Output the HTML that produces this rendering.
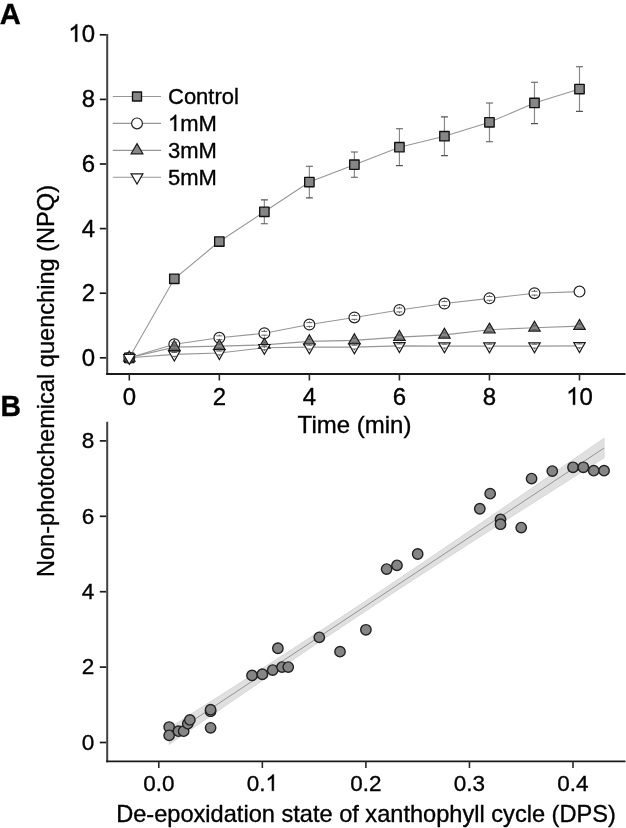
<!DOCTYPE html><html><head><meta charset="utf-8"><style>html,body{margin:0;padding:0;background:#fff;}svg{display:block;will-change:transform;font-family:"Liberation Sans",sans-serif;}text{stroke:#000;stroke-width:0.35px;}</style></head><body>
<svg width="626" height="828" viewBox="0 0 626 828">
<g transform="translate(-0.30 24.20) scale(1.0 1.015)"><text x="0.00" y="0" font-size="29.2" font-weight="bold">A</text></g>
<g transform="translate(0.40 416.20) scale(0.97 1.015)"><text x="0.00" y="0" font-size="29.2" font-weight="bold">B</text></g>
<path d="M107.2 34.000000000000014 V374.9" fill="none" stroke="#404040" stroke-width="2"/>
<path d="M106.1 374 H625.5" fill="none" stroke="#1a1a1a" stroke-width="1.8"/>
<line x1="99.8" y1="357.80" x2="106.2" y2="357.80" stroke="#1a1a1a" stroke-width="1.7"/>
<g transform="translate(81.65 365.70) scale(1.0 1.015)"><text x="0.00" y="0" font-size="24">0</text></g>
<line x1="99.8" y1="293.20" x2="106.2" y2="293.20" stroke="#1a1a1a" stroke-width="1.7"/>
<g transform="translate(81.65 301.10) scale(1.0 1.015)"><text x="0.00" y="0" font-size="24">2</text></g>
<line x1="99.8" y1="228.60" x2="106.2" y2="228.60" stroke="#1a1a1a" stroke-width="1.7"/>
<g transform="translate(81.65 236.50) scale(1.0 1.015)"><text x="0.00" y="0" font-size="24">4</text></g>
<line x1="99.8" y1="164.00" x2="106.2" y2="164.00" stroke="#1a1a1a" stroke-width="1.7"/>
<g transform="translate(81.65 171.90) scale(1.0 1.015)"><text x="0.00" y="0" font-size="24">6</text></g>
<line x1="99.8" y1="99.40" x2="106.2" y2="99.40" stroke="#1a1a1a" stroke-width="1.7"/>
<g transform="translate(81.65 107.30) scale(1.0 1.015)"><text x="0.00" y="0" font-size="24">8</text></g>
<line x1="99.8" y1="34.80" x2="106.2" y2="34.80" stroke="#1a1a1a" stroke-width="1.7"/>
<g transform="translate(68.30 41.70) scale(1.0 1.015)"><path d="M8.94 0.00L6.83 0.00L6.83 -13.44Q6.07 -12.71 4.83 -11.99Q3.60 -11.26 2.61 -10.90L2.61 -12.94Q4.38 -13.77 5.71 -14.95Q7.03 -16.14 7.58 -17.25L8.94 -17.25Z" fill="#000" stroke="#000" stroke-width="0.35"/><text x="13.35" y="0" font-size="24">0</text></g>
<line x1="129.30" y1="374" x2="129.30" y2="380.5" stroke="#2a2a2a" stroke-width="1.6"/>
<g transform="translate(122.63 404.70) scale(1.0 1.015)"><text x="0.00" y="0" font-size="24">0</text></g>
<line x1="219.34" y1="374" x2="219.34" y2="380.5" stroke="#2a2a2a" stroke-width="1.6"/>
<g transform="translate(212.67 404.70) scale(1.0 1.015)"><text x="0.00" y="0" font-size="24">2</text></g>
<line x1="309.38" y1="374" x2="309.38" y2="380.5" stroke="#2a2a2a" stroke-width="1.6"/>
<g transform="translate(302.71 404.70) scale(1.0 1.015)"><text x="0.00" y="0" font-size="24">4</text></g>
<line x1="399.42" y1="374" x2="399.42" y2="380.5" stroke="#2a2a2a" stroke-width="1.6"/>
<g transform="translate(392.75 404.70) scale(1.0 1.015)"><text x="0.00" y="0" font-size="24">6</text></g>
<line x1="489.46" y1="374" x2="489.46" y2="380.5" stroke="#2a2a2a" stroke-width="1.6"/>
<g transform="translate(482.79 404.70) scale(1.0 1.015)"><text x="0.00" y="0" font-size="24">8</text></g>
<line x1="579.50" y1="374" x2="579.50" y2="380.5" stroke="#2a2a2a" stroke-width="1.6"/>
<g transform="translate(566.15 404.70) scale(1.0 1.015)"><path d="M8.94 0.00L6.83 0.00L6.83 -13.44Q6.07 -12.71 4.83 -11.99Q3.60 -11.26 2.61 -10.90L2.61 -12.94Q4.38 -13.77 5.71 -14.95Q7.03 -16.14 7.58 -17.25L8.94 -17.25Z" fill="#000" stroke="#000" stroke-width="0.35"/><text x="13.35" y="0" font-size="24">0</text></g>
<text x="354.5" y="433" font-size="24" text-anchor="middle">Time (min)</text>
<text transform="translate(54.3 381) rotate(-90)" font-size="23.6" text-anchor="middle">Non-photochemical quenching (NPQ)</text>
<polyline points="129.30,357.80 174.32,354.41 219.34,352.95 264.36,347.79 309.38,347.14 354.40,347.14 399.42,345.85 444.44,346.17 489.46,346.17 534.48,346.17 579.50,345.85" fill="none" stroke="#969696" stroke-width="1.1"/>
<polyline points="129.30,357.80 174.32,347.14 219.34,346.17 264.36,344.88 309.38,341.33 354.40,340.36 399.42,337.13 444.44,334.87 489.46,329.70 534.48,327.76 579.50,326.15" fill="none" stroke="#969696" stroke-width="1.1"/>
<polyline points="129.30,357.80 174.32,344.23 219.34,337.77 264.36,333.25 309.38,324.53 354.40,317.43 399.42,310.00 444.44,303.54 489.46,298.37 534.48,293.20 579.50,291.59" fill="none" stroke="#969696" stroke-width="1.1"/>
<polyline points="129.30,357.80 174.32,278.79 219.34,241.52 264.36,211.80 309.38,182.09 354.40,164.65 399.42,147.20 444.44,136.22 489.46,122.33 534.48,102.95 579.50,89.06" fill="none" stroke="#969696" stroke-width="1.1"/>
<path d="M264.36 199.85 V223.76" stroke="#8a8a8a" stroke-width="1.2" fill="none"/>
<path d="M260.86 199.85 H267.86 M260.86 223.76 H267.86" stroke="#555" stroke-width="1.1" fill="none"/>
<path d="M309.38 166.26 V197.92" stroke="#8a8a8a" stroke-width="1.2" fill="none"/>
<path d="M305.88 166.26 H312.88 M305.88 197.92 H312.88" stroke="#555" stroke-width="1.1" fill="none"/>
<path d="M354.40 152.05 V177.24" stroke="#8a8a8a" stroke-width="1.2" fill="none"/>
<path d="M350.90 152.05 H357.90 M350.90 177.24 H357.90" stroke="#555" stroke-width="1.1" fill="none"/>
<path d="M399.42 128.79 V165.62" stroke="#8a8a8a" stroke-width="1.2" fill="none"/>
<path d="M395.92 128.79 H402.92 M395.92 165.62 H402.92" stroke="#555" stroke-width="1.1" fill="none"/>
<path d="M444.44 116.84 V155.60" stroke="#8a8a8a" stroke-width="1.2" fill="none"/>
<path d="M440.94 116.84 H447.94 M440.94 155.60 H447.94" stroke="#555" stroke-width="1.1" fill="none"/>
<path d="M489.46 102.95 V141.71" stroke="#8a8a8a" stroke-width="1.2" fill="none"/>
<path d="M485.96 102.95 H492.96 M485.96 141.71 H492.96" stroke="#555" stroke-width="1.1" fill="none"/>
<path d="M534.48 82.28 V123.63" stroke="#8a8a8a" stroke-width="1.2" fill="none"/>
<path d="M530.98 82.28 H537.98 M530.98 123.63 H537.98" stroke="#555" stroke-width="1.1" fill="none"/>
<path d="M579.50 66.78 V111.35" stroke="#8a8a8a" stroke-width="1.2" fill="none"/>
<path d="M576.00 66.78 H583.00 M576.00 111.35 H583.00" stroke="#555" stroke-width="1.1" fill="none"/>
<rect x="124.60" y="353.10" width="9.4" height="9.4" fill="#868686" stroke="#111" stroke-width="1.35" stroke-linejoin="round"/>
<rect x="169.62" y="274.09" width="9.4" height="9.4" fill="#868686" stroke="#111" stroke-width="1.35" stroke-linejoin="round"/>
<rect x="214.64" y="236.82" width="9.4" height="9.4" fill="#868686" stroke="#111" stroke-width="1.35" stroke-linejoin="round"/>
<rect x="259.66" y="207.10" width="9.4" height="9.4" fill="#868686" stroke="#111" stroke-width="1.35" stroke-linejoin="round"/>
<rect x="304.68" y="177.39" width="9.4" height="9.4" fill="#868686" stroke="#111" stroke-width="1.35" stroke-linejoin="round"/>
<rect x="349.70" y="159.95" width="9.4" height="9.4" fill="#868686" stroke="#111" stroke-width="1.35" stroke-linejoin="round"/>
<rect x="394.72" y="142.50" width="9.4" height="9.4" fill="#868686" stroke="#111" stroke-width="1.35" stroke-linejoin="round"/>
<rect x="439.74" y="131.52" width="9.4" height="9.4" fill="#868686" stroke="#111" stroke-width="1.35" stroke-linejoin="round"/>
<rect x="484.76" y="117.63" width="9.4" height="9.4" fill="#868686" stroke="#111" stroke-width="1.35" stroke-linejoin="round"/>
<rect x="529.78" y="98.25" width="9.4" height="9.4" fill="#868686" stroke="#111" stroke-width="1.35" stroke-linejoin="round"/>
<rect x="574.80" y="84.36" width="9.4" height="9.4" fill="#868686" stroke="#111" stroke-width="1.35" stroke-linejoin="round"/>
<circle cx="129.30" cy="357.80" r="5.4" fill="#fff" stroke="#222" stroke-width="1.2"/>
<circle cx="174.32" cy="344.23" r="5.4" fill="#fff" stroke="#222" stroke-width="1.2"/>
<circle cx="219.34" cy="337.77" r="5.4" fill="#fff" stroke="#222" stroke-width="1.2"/>
<circle cx="264.36" cy="333.25" r="5.4" fill="#fff" stroke="#222" stroke-width="1.2"/>
<circle cx="309.38" cy="324.53" r="5.4" fill="#fff" stroke="#222" stroke-width="1.2"/>
<circle cx="354.40" cy="317.43" r="5.4" fill="#fff" stroke="#222" stroke-width="1.2"/>
<circle cx="399.42" cy="310.00" r="5.4" fill="#fff" stroke="#222" stroke-width="1.2"/>
<circle cx="444.44" cy="303.54" r="5.4" fill="#fff" stroke="#222" stroke-width="1.2"/>
<circle cx="489.46" cy="298.37" r="5.4" fill="#fff" stroke="#222" stroke-width="1.2"/>
<circle cx="534.48" cy="293.20" r="5.4" fill="#fff" stroke="#222" stroke-width="1.2"/>
<circle cx="579.50" cy="291.59" r="5.4" fill="#fff" stroke="#222" stroke-width="1.2"/>
<polygon points="129.30,351.22 135.00,361.09 123.60,361.09" fill="#888" stroke="#1a1a1a" stroke-width="1.2" stroke-linejoin="miter"/>
<polygon points="174.32,340.56 180.02,350.43 168.62,350.43" fill="#888" stroke="#1a1a1a" stroke-width="1.2" stroke-linejoin="miter"/>
<polygon points="219.34,339.59 225.04,349.46 213.64,349.46" fill="#888" stroke="#1a1a1a" stroke-width="1.2" stroke-linejoin="miter"/>
<polygon points="264.36,338.30 270.06,348.17 258.66,348.17" fill="#888" stroke="#1a1a1a" stroke-width="1.2" stroke-linejoin="miter"/>
<polygon points="309.38,334.75 315.08,344.62 303.68,344.62" fill="#888" stroke="#1a1a1a" stroke-width="1.2" stroke-linejoin="miter"/>
<polygon points="354.40,333.78 360.10,343.65 348.70,343.65" fill="#888" stroke="#1a1a1a" stroke-width="1.2" stroke-linejoin="miter"/>
<polygon points="399.42,330.55 405.12,340.42 393.72,340.42" fill="#888" stroke="#1a1a1a" stroke-width="1.2" stroke-linejoin="miter"/>
<polygon points="444.44,328.29 450.14,338.16 438.74,338.16" fill="#888" stroke="#1a1a1a" stroke-width="1.2" stroke-linejoin="miter"/>
<polygon points="489.46,323.12 495.16,332.99 483.76,332.99" fill="#888" stroke="#1a1a1a" stroke-width="1.2" stroke-linejoin="miter"/>
<polygon points="534.48,321.18 540.18,331.05 528.78,331.05" fill="#888" stroke="#1a1a1a" stroke-width="1.2" stroke-linejoin="miter"/>
<polygon points="579.50,319.56 585.20,329.44 573.80,329.44" fill="#888" stroke="#1a1a1a" stroke-width="1.2" stroke-linejoin="miter"/>
<polygon points="123.60,354.51 135.00,354.51 129.30,364.38" fill="#fff" stroke="#1a1a1a" stroke-width="1.2" stroke-linejoin="miter"/>
<polygon points="168.62,351.12 180.02,351.12 174.32,360.99" fill="#fff" stroke="#1a1a1a" stroke-width="1.2" stroke-linejoin="miter"/>
<polygon points="213.64,349.66 225.04,349.66 219.34,359.54" fill="#fff" stroke="#1a1a1a" stroke-width="1.2" stroke-linejoin="miter"/>
<polygon points="258.66,344.50 270.06,344.50 264.36,354.37" fill="#fff" stroke="#1a1a1a" stroke-width="1.2" stroke-linejoin="miter"/>
<polygon points="303.68,343.85 315.08,343.85 309.38,353.72" fill="#fff" stroke="#1a1a1a" stroke-width="1.2" stroke-linejoin="miter"/>
<polygon points="348.70,343.85 360.10,343.85 354.40,353.72" fill="#fff" stroke="#1a1a1a" stroke-width="1.2" stroke-linejoin="miter"/>
<polygon points="393.72,342.56 405.12,342.56 399.42,352.43" fill="#fff" stroke="#1a1a1a" stroke-width="1.2" stroke-linejoin="miter"/>
<polygon points="438.74,342.88 450.14,342.88 444.44,352.75" fill="#fff" stroke="#1a1a1a" stroke-width="1.2" stroke-linejoin="miter"/>
<polygon points="483.76,342.88 495.16,342.88 489.46,352.75" fill="#fff" stroke="#1a1a1a" stroke-width="1.2" stroke-linejoin="miter"/>
<polygon points="528.78,342.88 540.18,342.88 534.48,352.75" fill="#fff" stroke="#1a1a1a" stroke-width="1.2" stroke-linejoin="miter"/>
<polygon points="573.80,342.56 585.20,342.56 579.50,352.43" fill="#fff" stroke="#1a1a1a" stroke-width="1.2" stroke-linejoin="miter"/>
<path d="M174.32 341.03 V342.33 M174.32 347.43 V346.13 M171.32 342.33 H177.32 M171.32 346.13 H177.32" stroke="#555" stroke-width="0.9" fill="none"/>
<path d="M219.34 334.57 V335.87 M219.34 340.97 V339.67 M216.34 335.87 H222.34 M216.34 339.67 H222.34" stroke="#555" stroke-width="0.9" fill="none"/>
<path d="M264.36 330.05 V331.35 M264.36 336.45 V335.15 M261.36 331.35 H267.36 M261.36 335.15 H267.36" stroke="#555" stroke-width="0.9" fill="none"/>
<path d="M309.38 321.33 V322.63 M309.38 327.73 V326.43 M306.38 322.63 H312.38 M306.38 326.43 H312.38" stroke="#555" stroke-width="0.9" fill="none"/>
<path d="M354.40 314.23 V315.53 M354.40 320.62 V319.32 M351.40 315.53 H357.40 M351.40 319.32 H357.40" stroke="#555" stroke-width="0.9" fill="none"/>
<path d="M399.42 306.80 V308.10 M399.42 313.20 V311.90 M396.42 308.10 H402.42 M396.42 311.90 H402.42" stroke="#555" stroke-width="0.9" fill="none"/>
<path d="M444.44 300.34 V301.64 M444.44 306.74 V305.44 M441.44 301.64 H447.44 M441.44 305.44 H447.44" stroke="#555" stroke-width="0.9" fill="none"/>
<path d="M489.46 295.17 V296.47 M489.46 301.57 V300.27 M486.46 296.47 H492.46 M486.46 300.27 H492.46" stroke="#555" stroke-width="0.9" fill="none"/>
<path d="M534.48 290.00 V291.30 M534.48 296.40 V295.10 M531.48 291.30 H537.48 M531.48 295.10 H537.48" stroke="#555" stroke-width="0.9" fill="none"/>
<path d="M174.32 343.94 V345.24 M174.32 350.34 V349.04 M171.32 345.24 H177.32 M171.32 349.04 H177.32" stroke="#555" stroke-width="0.9" fill="none"/>
<path d="M219.34 342.97 V344.27 M219.34 349.37 V348.07 M216.34 344.27 H222.34 M216.34 348.07 H222.34" stroke="#555" stroke-width="0.9" fill="none"/>
<path d="M264.36 341.68 V342.98 M264.36 348.08 V346.78 M261.36 342.98 H267.36 M261.36 346.78 H267.36" stroke="#555" stroke-width="0.9" fill="none"/>
<path d="M309.38 338.13 V339.43 M309.38 344.53 V343.23 M306.38 339.43 H312.38 M306.38 343.23 H312.38" stroke="#555" stroke-width="0.9" fill="none"/>
<path d="M354.40 337.16 V338.46 M354.40 343.56 V342.26 M351.40 338.46 H357.40 M351.40 342.26 H357.40" stroke="#555" stroke-width="0.9" fill="none"/>
<path d="M399.42 333.93 V335.23 M399.42 340.33 V339.03 M396.42 335.23 H402.42 M396.42 339.03 H402.42" stroke="#555" stroke-width="0.9" fill="none"/>
<path d="M444.44 331.67 V332.97 M444.44 338.07 V336.77 M441.44 332.97 H447.44 M441.44 336.77 H447.44" stroke="#555" stroke-width="0.9" fill="none"/>
<path d="M489.46 326.50 V327.80 M489.46 332.90 V331.60 M486.46 327.80 H492.46 M486.46 331.60 H492.46" stroke="#555" stroke-width="0.9" fill="none"/>
<path d="M534.48 324.56 V325.86 M534.48 330.96 V329.66 M531.48 325.86 H537.48 M531.48 329.66 H537.48" stroke="#555" stroke-width="0.9" fill="none"/>
<path d="M579.50 322.95 V324.25 M579.50 329.35 V328.05 M576.50 324.25 H582.50 M576.50 328.05 H582.50" stroke="#555" stroke-width="0.9" fill="none"/>
<path d="M174.32 351.21 V352.51 M174.32 357.61 V356.31 M171.32 352.51 H177.32 M171.32 356.31 H177.32" stroke="#555" stroke-width="0.9" fill="none"/>
<path d="M219.34 349.75 V351.06 M219.34 356.15 V354.85 M216.34 351.06 H222.34 M216.34 354.85 H222.34" stroke="#555" stroke-width="0.9" fill="none"/>
<path d="M264.36 344.59 V345.89 M264.36 350.99 V349.69 M261.36 345.89 H267.36 M261.36 349.69 H267.36" stroke="#555" stroke-width="0.9" fill="none"/>
<path d="M309.38 343.94 V345.24 M309.38 350.34 V349.04 M306.38 345.24 H312.38 M306.38 349.04 H312.38" stroke="#555" stroke-width="0.9" fill="none"/>
<path d="M354.40 343.94 V345.24 M354.40 350.34 V349.04 M351.40 345.24 H357.40 M351.40 349.04 H357.40" stroke="#555" stroke-width="0.9" fill="none"/>
<path d="M399.42 342.65 V343.95 M399.42 349.05 V347.75 M396.42 343.95 H402.42 M396.42 347.75 H402.42" stroke="#555" stroke-width="0.9" fill="none"/>
<path d="M444.44 342.97 V344.27 M444.44 349.37 V348.07 M441.44 344.27 H447.44 M441.44 348.07 H447.44" stroke="#555" stroke-width="0.9" fill="none"/>
<path d="M489.46 342.97 V344.27 M489.46 349.37 V348.07 M486.46 344.27 H492.46 M486.46 348.07 H492.46" stroke="#555" stroke-width="0.9" fill="none"/>
<path d="M534.48 342.97 V344.27 M534.48 349.37 V348.07 M531.48 344.27 H537.48 M531.48 348.07 H537.48" stroke="#555" stroke-width="0.9" fill="none"/>
<path d="M579.50 342.65 V343.95 M579.50 349.05 V347.75 M576.50 343.95 H582.50 M576.50 347.75 H582.50" stroke="#555" stroke-width="0.9" fill="none"/>
<line x1="112.8" y1="96.5" x2="161" y2="96.5" stroke="#969696" stroke-width="1.1"/>
<rect x="132.50" y="92.00" width="9.0" height="9.0" fill="#868686" stroke="#111" stroke-width="1.35" stroke-linejoin="round"/>
<g transform="translate(168.00 104.00) scale(1.0 1.02)"><text x="0.00" y="0" font-size="22">Control</text></g>
<line x1="112.8" y1="123.4" x2="161" y2="123.4" stroke="#969696" stroke-width="1.1"/>
<circle cx="137.00" cy="123.40" r="5.4" fill="#fff" stroke="#222" stroke-width="1.2"/>
<g transform="translate(168.00 130.90) scale(1.0 1.02)"><path d="M8.20 0.00L6.26 0.00L6.26 -12.32Q5.56 -11.66 4.43 -10.99Q3.30 -10.32 2.40 -9.99L2.40 -11.86Q4.02 -12.62 5.23 -13.71Q6.45 -14.79 6.95 -15.81L8.20 -15.81Z" fill="#000" stroke="#000" stroke-width="0.35"/><text x="12.24" y="0" font-size="22">mM</text></g>
<line x1="112.8" y1="150.4" x2="161" y2="150.4" stroke="#969696" stroke-width="1.1"/>
<polygon points="137.00,143.59 142.90,153.81 131.10,153.81" fill="#888" stroke="#1a1a1a" stroke-width="1.2" stroke-linejoin="miter"/>
<g transform="translate(168.00 157.90) scale(1.0 1.02)"><text x="0.00" y="0" font-size="22">3mM</text></g>
<line x1="112.8" y1="177.3" x2="161" y2="177.3" stroke="#969696" stroke-width="1.1"/>
<polygon points="131.10,173.89 142.90,173.89 137.00,184.11" fill="#fff" stroke="#1a1a1a" stroke-width="1.2" stroke-linejoin="miter"/>
<g transform="translate(168.00 184.80) scale(1.0 1.02)"><text x="0.00" y="0" font-size="22">5mM</text></g>
<path d="M107.2 421.8 V762.3" fill="none" stroke="#404040" stroke-width="2"/>
<path d="M106.1 761.4 H625.5" fill="none" stroke="#1a1a1a" stroke-width="1.8"/>
<line x1="99.8" y1="742.50" x2="106.2" y2="742.50" stroke="#1a1a1a" stroke-width="1.7"/>
<g transform="translate(81.83 749.70) scale(1.0 1.015)"><text x="0.00" y="0" font-size="22.6">0</text></g>
<line x1="99.8" y1="667.10" x2="106.2" y2="667.10" stroke="#1a1a1a" stroke-width="1.7"/>
<g transform="translate(81.83 674.30) scale(1.0 1.015)"><text x="0.00" y="0" font-size="22.6">2</text></g>
<line x1="99.8" y1="591.70" x2="106.2" y2="591.70" stroke="#1a1a1a" stroke-width="1.7"/>
<g transform="translate(81.83 598.90) scale(1.0 1.015)"><text x="0.00" y="0" font-size="22.6">4</text></g>
<line x1="99.8" y1="516.30" x2="106.2" y2="516.30" stroke="#1a1a1a" stroke-width="1.7"/>
<g transform="translate(81.83 523.50) scale(1.0 1.015)"><text x="0.00" y="0" font-size="22.6">6</text></g>
<line x1="99.8" y1="440.90" x2="106.2" y2="440.90" stroke="#1a1a1a" stroke-width="1.7"/>
<g transform="translate(81.83 448.10) scale(1.0 1.015)"><text x="0.00" y="0" font-size="22.6">8</text></g>
<line x1="158.80" y1="761.4" x2="158.80" y2="768" stroke="#2a2a2a" stroke-width="1.6"/>
<g transform="translate(143.16 790.80) scale(1.0 1.015)"><text x="0.00" y="0" font-size="22.5">0.0</text></g>
<line x1="262.35" y1="761.4" x2="262.35" y2="768" stroke="#2a2a2a" stroke-width="1.6"/>
<g transform="translate(246.71 790.80) scale(1.0 1.015)"><text x="0.00" y="0" font-size="22.5">0.</text><path d="M27.15 0.00L25.17 0.00L25.17 -12.60Q24.46 -11.92 23.29 -11.24Q22.14 -10.56 21.21 -10.22L21.21 -12.13Q22.87 -12.91 24.11 -14.02Q25.36 -15.13 25.87 -16.17L27.15 -16.17Z" fill="#000" stroke="#000" stroke-width="0.35"/></g>
<line x1="365.90" y1="761.4" x2="365.90" y2="768" stroke="#2a2a2a" stroke-width="1.6"/>
<g transform="translate(350.26 790.80) scale(1.0 1.015)"><text x="0.00" y="0" font-size="22.5">0.2</text></g>
<line x1="469.45" y1="761.4" x2="469.45" y2="768" stroke="#2a2a2a" stroke-width="1.6"/>
<g transform="translate(453.81 790.80) scale(1.0 1.015)"><text x="0.00" y="0" font-size="22.5">0.3</text></g>
<line x1="573.00" y1="761.4" x2="573.00" y2="768" stroke="#2a2a2a" stroke-width="1.6"/>
<g transform="translate(557.36 790.80) scale(1.0 1.015)"><text x="0.00" y="0" font-size="22.5">0.4</text></g>
<text x="366" y="822" font-size="23.6" text-anchor="middle">De-epoxidation state of xanthophyll cycle (DPS)</text>
<polygon points="169.16,727.98 176.40,723.37 183.65,718.76 190.90,714.15 198.15,709.53 205.40,704.91 212.65,700.29 219.89,695.66 227.14,691.02 234.39,686.39 241.64,681.74 248.89,677.09 256.14,672.43 263.39,667.77 270.63,663.10 277.88,658.42 285.13,653.74 292.38,649.04 299.63,644.34 306.88,639.62 314.12,634.90 321.37,630.17 328.62,625.42 335.87,620.66 343.12,615.89 350.37,611.11 357.62,606.32 364.86,601.51 372.11,596.69 379.36,591.86 386.61,587.02 393.86,582.17 401.11,577.30 408.36,572.42 415.60,567.54 422.85,562.64 430.10,557.73 437.35,552.82 444.60,547.89 451.85,542.96 459.10,538.02 466.34,533.08 473.59,528.12 480.84,523.16 488.09,518.20 495.34,513.23 502.59,508.25 509.83,503.28 517.08,498.29 524.33,493.30 531.58,488.31 538.83,483.32 546.08,478.32 553.33,473.32 560.57,468.32 567.82,463.31 575.07,458.31 582.32,453.30 589.57,448.28 596.82,443.27 604.07,438.25 604.07,457.87 596.82,462.46 589.57,467.05 582.32,471.65 575.07,476.24 567.82,480.84 560.57,485.44 553.33,490.05 546.08,494.65 538.83,499.26 531.58,503.87 524.33,508.49 517.08,513.11 509.83,517.73 502.59,522.35 495.34,526.99 488.09,531.62 480.84,536.26 473.59,540.91 466.34,545.56 459.10,550.22 451.85,554.89 444.60,559.56 437.35,564.25 430.10,568.94 422.85,573.64 415.60,578.34 408.36,583.06 401.11,587.79 393.86,592.53 386.61,597.29 379.36,602.05 372.11,606.82 364.86,611.61 357.62,616.41 350.37,621.22 343.12,626.05 335.87,630.88 328.62,635.73 321.37,640.59 314.12,645.46 306.88,650.35 299.63,655.24 292.38,660.14 285.13,665.05 277.88,669.97 270.63,674.90 263.39,679.83 256.14,684.78 248.89,689.73 241.64,694.68 234.39,699.64 227.14,704.61 219.89,709.58 212.65,714.56 205.40,719.54 198.15,724.53 190.90,729.52 183.65,734.51 176.40,739.51 169.16,744.50" fill="#e0e0e0" stroke="#d2d2d2" stroke-width="0.8"/>
<line x1="169.16" y1="736.24" x2="604.07" y2="448.06" stroke="#959595" stroke-width="1"/>
<circle cx="169.16" cy="727.04" r="5.2" fill="#858585" stroke="#222" stroke-width="1.4"/>
<circle cx="169.16" cy="735.34" r="5.2" fill="#858585" stroke="#222" stroke-width="1.4"/>
<circle cx="178.47" cy="731.19" r="5.2" fill="#858585" stroke="#222" stroke-width="1.4"/>
<circle cx="183.65" cy="731.19" r="5.2" fill="#858585" stroke="#222" stroke-width="1.4"/>
<circle cx="187.79" cy="723.65" r="5.2" fill="#858585" stroke="#222" stroke-width="1.4"/>
<circle cx="189.87" cy="719.88" r="5.2" fill="#858585" stroke="#222" stroke-width="1.4"/>
<circle cx="210.58" cy="711.21" r="5.2" fill="#858585" stroke="#222" stroke-width="1.4"/>
<circle cx="210.58" cy="709.70" r="5.2" fill="#858585" stroke="#222" stroke-width="1.4"/>
<circle cx="210.58" cy="727.80" r="5.2" fill="#858585" stroke="#222" stroke-width="1.4"/>
<circle cx="252.00" cy="675.39" r="5.2" fill="#858585" stroke="#222" stroke-width="1.4"/>
<circle cx="262.35" cy="674.26" r="5.2" fill="#858585" stroke="#222" stroke-width="1.4"/>
<circle cx="272.71" cy="670.12" r="5.2" fill="#858585" stroke="#222" stroke-width="1.4"/>
<circle cx="282.02" cy="667.10" r="5.2" fill="#858585" stroke="#222" stroke-width="1.4"/>
<circle cx="288.24" cy="667.10" r="5.2" fill="#858585" stroke="#222" stroke-width="1.4"/>
<circle cx="277.88" cy="648.25" r="5.2" fill="#858585" stroke="#222" stroke-width="1.4"/>
<circle cx="319.30" cy="637.32" r="5.2" fill="#858585" stroke="#222" stroke-width="1.4"/>
<circle cx="340.01" cy="651.64" r="5.2" fill="#858585" stroke="#222" stroke-width="1.4"/>
<circle cx="365.90" cy="629.78" r="5.2" fill="#858585" stroke="#222" stroke-width="1.4"/>
<circle cx="386.61" cy="569.08" r="5.2" fill="#858585" stroke="#222" stroke-width="1.4"/>
<circle cx="396.97" cy="565.31" r="5.2" fill="#858585" stroke="#222" stroke-width="1.4"/>
<circle cx="417.68" cy="554.00" r="5.2" fill="#858585" stroke="#222" stroke-width="1.4"/>
<circle cx="479.81" cy="508.76" r="5.2" fill="#858585" stroke="#222" stroke-width="1.4"/>
<circle cx="490.16" cy="493.68" r="5.2" fill="#858585" stroke="#222" stroke-width="1.4"/>
<circle cx="500.52" cy="519.32" r="5.2" fill="#858585" stroke="#222" stroke-width="1.4"/>
<circle cx="500.52" cy="524.22" r="5.2" fill="#858585" stroke="#222" stroke-width="1.4"/>
<circle cx="521.22" cy="527.61" r="5.2" fill="#858585" stroke="#222" stroke-width="1.4"/>
<circle cx="531.58" cy="478.60" r="5.2" fill="#858585" stroke="#222" stroke-width="1.4"/>
<circle cx="552.29" cy="471.06" r="5.2" fill="#858585" stroke="#222" stroke-width="1.4"/>
<circle cx="573.00" cy="467.29" r="5.2" fill="#858585" stroke="#222" stroke-width="1.4"/>
<circle cx="583.36" cy="467.29" r="5.2" fill="#858585" stroke="#222" stroke-width="1.4"/>
<circle cx="593.71" cy="470.68" r="5.2" fill="#858585" stroke="#222" stroke-width="1.4"/>
<circle cx="604.07" cy="470.68" r="5.2" fill="#858585" stroke="#222" stroke-width="1.4"/>
</svg></body></html>
